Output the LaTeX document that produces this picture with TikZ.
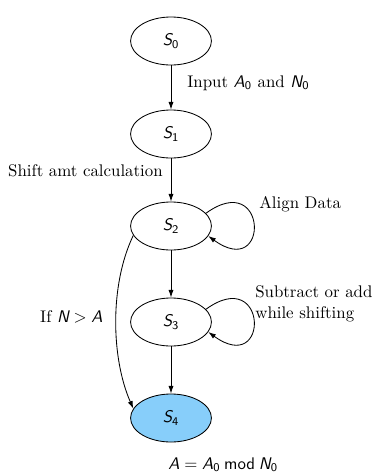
\documentclass[tikz,border=0pt]{standalone}
\usepackage{amsmath}
\usetikzlibrary{arrows.meta,shapes.geometric}
\newcommand{\sv}[1]{\textsf{\slshape #1}}
\newcommand{\sn}[1]{\textsf{#1}}
\definecolor{nodeblue}{RGB}{135,206,250}
\begin{document}
\begin{tikzpicture}[x=0.5935pt,y=0.5935pt,
  state/.style={ellipse, draw, line width=0.5pt, minimum width=48pt, minimum height=28.5pt, inner sep=0pt},
  edge/.style={-{Latex[length=4.5pt,width=3pt]}, line width=0.5pt},
  lbl/.style={inner sep=0pt}]
\useasboundingbox (0,0) rectangle (374,-472);
\node[state] (S0) at (171,-41) {$\sv{S}_{\sn{0}}$};
\node[state] (S1) at (171,-134) {$\sv{S}_{\sn{1}}$};
\node[state] (S2) at (171,-226) {$\sv{S}_{\sn{2}}$};
\node[state] (S3) at (171,-322) {$\sv{S}_{\sn{3}}$};
\node[state, fill=nodeblue] (S4) at (171,-418) {$\sv{S}_{\sn{4}}$};
\draw[edge] (S0) -- (S1);
\draw[edge] (S1) -- (S2);
\draw[edge] (S2) -- (S3);
\draw[edge] (S3) -- (S4);
\draw[edge] (S2.20) .. controls +(62,45) and +(62,-45) .. (S2.-15);
\draw[edge] (S3.20) .. controls +(62,45) and +(62,-45) .. (S3.-15);
\draw[edge] (S2.194) .. controls +(-24,-50) and +(-22,50) .. (S4.166);
\node[lbl, anchor=base west] (l1) at (187,-87) {Input $\sv{A}_{\sn{0}}$ and $\sv{N}_{\sn{0}}$};
\node[lbl, anchor=base east] (l2) at (163,-176) {Shift amt calculation};
\node[lbl, anchor=base west] (l3) at (259,-208) {Align Data};
\node[lbl, anchor=base west, align=left] (l4) at (255,-318) {Subtract or add\\while shifting};
\node[lbl, anchor=base east] (l5) at (103,-322) {If $\sv{N} > \sv{A}$};
\node[lbl, anchor=base west] (l6) at (168,-469) {$\sv{A} = \sv{A}_{\sn{0}} \mathbin{\sn{mod}} \sv{N}_{\sn{0}}$};
\end{tikzpicture}
\end{document}
